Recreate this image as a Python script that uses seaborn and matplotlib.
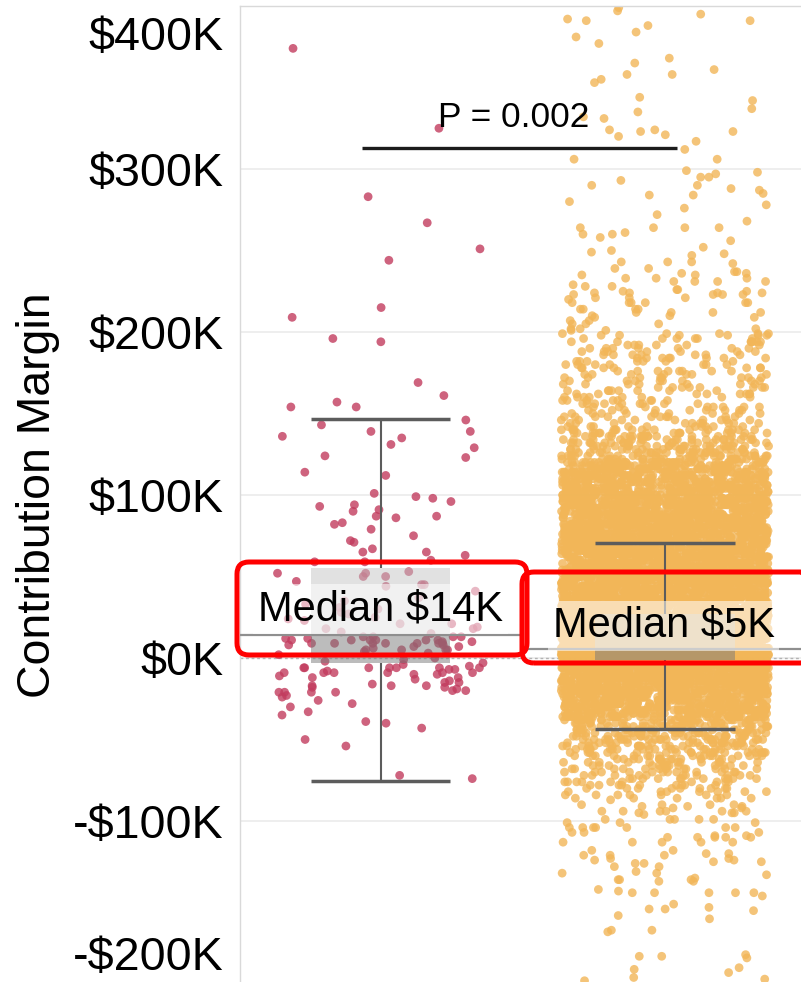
"""
Contribution margin by group: jittered strip plot with box/whisker overlay,
median reference lines and a p-value bracket.
"""

import numpy as np
import pandas as pd
import matplotlib
matplotlib.use("Agg")
import matplotlib.pyplot as plt
import matplotlib.transforms as mtransforms
from matplotlib.patches import FancyBboxPatch
import seaborn as sns

# ---- data (all values in $K) ----
group_names = ["Group A", "Group B"]

red_values = [
    374, 325, 283, 267, 251, 244, 215, 209, 196, 194,
    169, 161, 154, 154, 157, 146, 143, 139, 139, 136, 135, 129, 124, 131, 123,
    114, 112, 98, 99, 101, 93, 91, 94, 87, 90, 96, 87, 83, 86, 82, 79, 72, 75,
    71, 67, 65, 65, 63, 59, 60, 59,
    52, 53, 50, 50, 52, 47, 45, 44, 45, 41, 37,
    24, 28, 21, 18, 19, 18, 13, 25, 21, 23, 16, 13, 15, 30, 33, 27, 35, 31,
    9, 13, 11, 11, 10, 9, 9, 9, 13, 9, 8, 10, 12, 7, 9, 11, 9, 11, 12, 7, 11,
    11, 5, 5, 5, 3, 5, 0, 2, 4, 6, 8,
    -6, -4, -7, -9, -6, -2, -10, -6, -9, -6, -12, -6, -7, -9, -9, -9, -6, -9,
    -18, -15, -20, -26, -6, -17, -20, -17, -13, -15, -17, -21, -21, -21, -18,
    -23, -21, -28, -30, -33, -35, -40, -43, -39, -50, -54, -72, -74,
    -3, -8, -11, -14, -5, -16, -10, -19, -1, -12, -24,
]

# sparse orange points above ~$200K
orange_top_values = [
    397, 399, 391, 391, 392, 395, 381, 384, 388, 377, 368, 358, 358, 361, 353,
    355, 365, 344, 331, 337, 323, 332, 335, 324, 324, 320, 321, 342, 323, 317,
    312, 306, 306, 297, 298, 299, 293, 295, 295, 290, 290, 285, 287, 284, 276,
    280, 278, 288, 284, 264, 258, 261, 260, 264, 264, 268, 272, 264, 260, 252,
    256, 247, 250, 248, 249, 242, 236, 243, 243, 243, 239, 237, 239, 236, 237,
    235, 235, 233, 231, 231, 233, 233, 229, 226, 221, 220, 224, 226, 225, 221,
    218, 231, 228, 218, 223, 214, 212, 223, 218, 218, 231, 224, 223, 228, 224,
    218, 224, 225, 218, 221, 223, 207, 212, 212, 207, 209, 214, 212, 210, 214,
    214, 210, 209, 205, 202, 199, 202, 199, 205, 201, 199, 202, 205, 199, 199,
    201,
]

# sparse orange points below ~-$87K
orange_bottom_values = [
    -91, -92, -94, -95, -91, -96, -95, -92, -91, -90, -90, -94, -90, -94, -90,
    -87, -99, -95, -94, -94, -94, -104, -99, -101, -104, -109, -99, -104, -110,
    -107, -113, -113, -113, -104, -113, -107, -113, -110, -109, -107, -104,
    -110, -104, -99, -101, -110, -101, -110, -104, -99,
    -121, -124, -123, -123, -121, -124, -125, -120, -120, -125, -128, -121,
    -118, -118, -126, -126, -132, -136, -132, -128, -143, -144, -144, -142,
    -137, -135, -136, -137, -146, -144, -144, -144, -131, -133, -136, -154,
    -160, -154, -153, -158, -155, -151, -167, -167, -184, -193, -183, -191,
    -183, -197, -198, -182, -190, -168, -196,
]

# dense orange band: margin level ($K) and number of accounts at that level
orange_levels = [
    198, 196, 194, 192, 190, 188, 186, 184, 182, 180,
    178, 176, 174, 172, 170, 168, 166, 164, 162, 160,
    158, 156, 154, 152, 150, 148, 146, 144, 142,
    140, 138, 136, 134, 132, 130, 128, 126, 124, 122,
    120, 118, 116, 114, 112, 110, 108, 106, 104, 102, 100,
    98, 96, 94, 92, 90, 88, 86, 84, 82, 80,
    78, 76, 74, 72, 70, 68, 66, 64, 62, 60,
    58, 56, 54, 52, 50, 48, 46, 44, 42, 40, 38, 36, 34, 32, 30,
    28, 26, 24, 22, 20, 18, 16, 14, 12, 10, 8, 6, 4, 2, 0,
    -2, -4, -6, -8, -10, -12, -14, -16, -18, -20,
    -22, -24, -26, -28, -30, -32, -34, -36,
    -38, -40, -42, -44, -46, -48, -50, -52, -54, -56, -58, -60,
    -62, -64, -66, -68, -70, -72, -74, -76, -78, -80,
    -82, -84, -86,
]
orange_level_counts = [
    6, 6, 7, 6, 7, 7, 7, 8, 7, 7,
    7, 8, 7, 8, 8, 7, 8, 8, 8, 8,
    8, 9, 8, 9, 9, 10, 9, 10, 10,
    16, 17, 18, 19, 20, 21, 22, 23, 24, 26,
    40, 42, 44, 46, 48, 50, 52, 54, 55, 56, 58,
    60, 60, 62, 62, 62, 64, 64, 64, 66, 66,
    66, 68, 68, 68, 70, 70, 70, 72, 72, 72,
    76, 76, 78, 78, 80, 80, 82, 82, 84, 84, 86, 86, 88, 88, 90,
    110, 112, 114, 116, 118, 120, 122, 124, 126, 128, 128, 130, 130, 128, 126,
    110, 104, 98, 92, 86, 80, 76, 72, 68, 64,
    62, 60, 58, 56, 54, 52, 50, 48,
    28, 27, 26, 25, 24, 23, 22, 21, 20, 19, 18, 17,
    14, 13, 13, 12, 12, 11, 11, 10, 9, 9,
    7, 7, 6,
]

# box plot summary per group ($K)
whisker_low = [-75.5, -43.6]
quartile_1 = [-3, -1]
medians = [14.4, 5.4]
quartile_3 = [55, 27]
whisker_high = [146.5, 70.5]

p_value = 0.002
p_bar_y = 313  # $K

y_ticks = [-200, -100, 0, 100, 200, 300, 400]

# ---- build the long table ----
orange_values = (orange_top_values + orange_bottom_values
                 + list(np.repeat(orange_levels, orange_level_counts)))
df = pd.DataFrame({
    "group": [group_names[0]] * len(red_values) + [group_names[1]] * len(orange_values),
    "margin": red_values + orange_values,
})

sns.set_theme(style="white")
plt.rcParams["font.family"] = ["Liberation Sans", "DejaVu Sans"]

W, H = 801, 982
fig = plt.figure(figsize=(W / 100, H / 100), dpi=100)
ax = fig.add_axes([240 / W, -2 / H, 561 / W, 978 / H])

np.random.seed(7)
sns.stripplot(
    data=df, x="group", y="margin", hue="group", order=group_names,
    palette=["#c23c5e", "#f2b658"], jitter=0.365, size=6.3, alpha=0.8,
    linewidth=0, legend=False, ax=ax, zorder=2,
)

x = np.arange(len(group_names))
box_w = 0.49

# box: light upper half, darker lower half
ax.bar(x, np.subtract(quartile_3, medians), bottom=medians, width=box_w,
       color="#c4c4c4", alpha=0.5, linewidth=0, zorder=3)
ax.bar(x, np.subtract(medians, quartile_1), bottom=quartile_1, width=box_w,
       color="#7a7a7a", alpha=0.5, linewidth=0, zorder=3)

# whiskers and caps
whisk_col = "#5c5c5c"
ax.vlines(x, quartile_3, whisker_high, color=whisk_col, lw=1.5, zorder=4)
ax.vlines(x, whisker_low, quartile_1, color=whisk_col, lw=1.5, zorder=4)
ax.hlines(whisker_high, x - box_w / 2, x + box_w / 2, color=whisk_col, lw=2.5, zorder=4)
ax.hlines(whisker_low, x - box_w / 2, x + box_w / 2, color=whisk_col, lw=2.5, zorder=4)

# median reference line across each pane
ax.hlines(medians, x - 0.5, x + 0.5, color="#8f8f8f", lw=1.6, zorder=4)

# zero line
ax.axhline(0, color="#b3b3b3", lw=1, ls=(0, (2, 2)), zorder=1.5)

# median labels
label_y = [23.3, 12.9]
label_x = [0.0, 0.995]
for xi, yi, m in zip(label_x, label_y, medians):
    ax.text(xi, yi, f"Median ${m:.0f}K", ha="center", va="baseline",
            fontsize=30, color="black", zorder=6,
            bbox=dict(boxstyle="square,pad=0.12", fc="white", ec="none", alpha=0.55))

# p-value bracket
ax.hlines(p_bar_y, -0.067, 1.042, color="#1c1c1c", lw=2.4, zorder=5)
ax.text(0.468, 326, f"P = {p_value}", ha="center", va="baseline",
        fontsize=25.4, color="black", zorder=6)

# axes styling
ax.set_xlim(-0.496, 1.479)
ax.set_ylim(-200, 400)
ax.set_xticks([])
ax.set_xlabel("")
ax.set_yticks(y_ticks)
ax.set_yticklabels([f"${v}K" if v >= 0 else f"-${-v}K" for v in y_ticks])
ax.tick_params(axis="y", labelsize=33.6, length=0, pad=12, labelcolor="black")
ax.yaxis.grid(True, color="#ebebeb", lw=1.2, zorder=0)
ax.set_axisbelow(True)
for side in ["right", "bottom"]:
    ax.spines[side].set_visible(False)
for side in ["left", "top"]:
    ax.spines[side].set_color("#d9d9d9")
    ax.spines[side].set_linewidth(1)

ax.set_ylabel("Contribution Margin", fontsize=33.4, color="black")
ax.yaxis.set_label_coords(-0.32, 0.5)

# edge tick labels are pulled inward
for tick in ax.yaxis.get_major_ticks():
    v = tick.get_loc()
    if v == 400:
        off = mtransforms.ScaledTranslation(0, -0.27, fig.dpi_scale_trans)
        tick.label1.set_transform(tick.label1.get_transform() + off)
    elif v == -200:
        off = mtransforms.ScaledTranslation(0, 0.31, fig.dpi_scale_trans)
        tick.label1.set_transform(tick.label1.get_transform() + off)

# red call-out frames around the median labels (pixel boxes, y from top)
for x0, y0, x1, y1 in [(237, 562, 527, 655), (522, 572, 812, 663)]:
    frame = FancyBboxPatch(
        (x0, H - y1), x1 - x0, y1 - y0,
        boxstyle="round,pad=0,rounding_size=12",
        transform=mtransforms.IdentityTransform(),
        fc="none", ec="#ff0000", lw=3.6, zorder=10,
    )
    fig.add_artist(frame)

fig.savefig("out.png", dpi=100)
